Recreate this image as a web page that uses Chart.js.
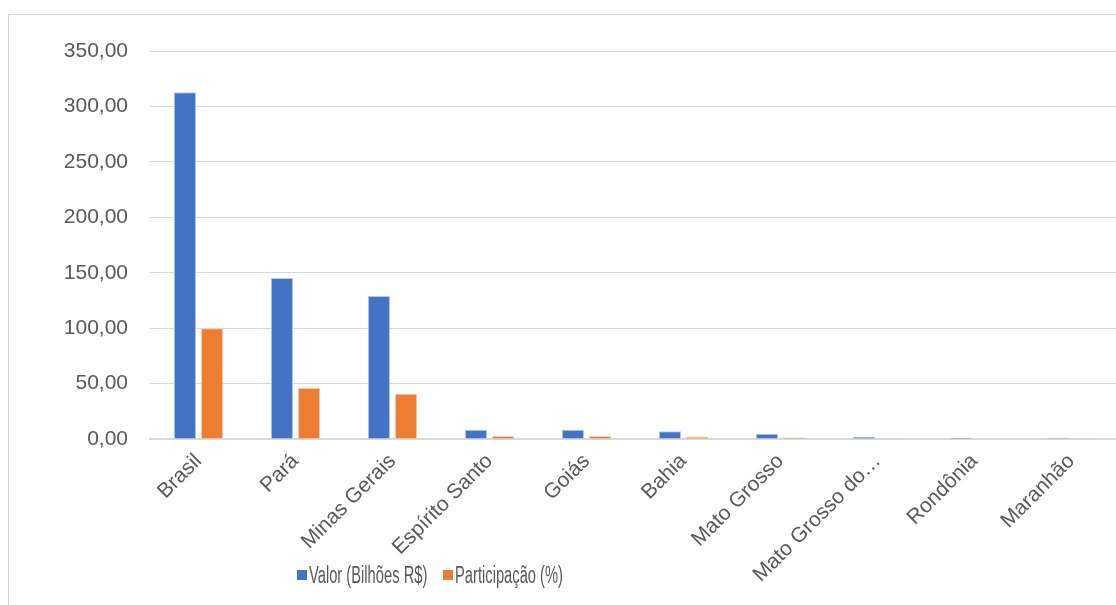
<!DOCTYPE html>
<html>
  <head>
    <meta charset="utf-8">
    <title>Valor e Participação por UF</title>
    <script src="https://cdn.jsdelivr.net/npm/chart.js@4.4.1/dist/chart.umd.min.js"></script>
    <style>
      html, body {
        margin: 0;
        padding: 0;
        background: #ffffff;
        overflow: hidden;
        width: 1116px;
        height: 605px;
      }
      #frame {
        position: absolute;
        left: 8px;
        top: 14px;
        width: 1200px;
        height: 700px;
        border: 1px solid #d9d9d9;
      }
      #wrap {
        position: absolute;
        left: 0;
        top: 0;
        width: 1125px;
        height: 605px;
      }
      .item {
        position: absolute;
        top: 563px;
        height: 24px;
        font-family: "Liberation Sans", sans-serif;
        font-size: 23px;
        line-height: 24px;
        color: #595959;
        white-space: nowrap;
      }
      .box {
        position: absolute;
        top: 7px;
        left: 0;
        width: 10px;
        height: 10px;
      }
      .txt {
        position: absolute;
        left: 12px;
        top: 0;
        transform: scaleX(0.64);
        transform-origin: left center;
      }
    </style>
  </head>
  <body>
    <div id="frame"></div>
    <div id="wrap"><canvas id="chart" width="1125" height="605"></canvas></div>
    <div class="item" style="left:297px"><span class="box" style="background:#4472c4"></span><span class="txt">Valor (Bilhões R$)</span></div>
    <div class="item" style="left:443px"><span class="box" style="background:#ed7d31"></span><span class="txt">Participação (%)</span></div>
    <script>
      var estados = ["Brasil", "Pará", "Minas Gerais", "Espírito Santo", "Goiás", "Bahia",
        "Mato Grosso", "Mato Grosso do…", "Rondônia", "Maranhão"];
      var valor = [312.8, 145.2, 129.0, 8.4, 8.3, 7.0, 4.8, 2.1, 1.2, 1.1];
      var participacao = [100.0, 46.0, 40.9, 2.7, 2.6, 2.2, 1.5, 0.6, 0.4, 0.3];
      var yTicks = [0, 50, 100, 150, 200, 250, 300, 350];

      var ctx = document.getElementById("chart").getContext("2d");
      var myChart = new Chart(ctx, {
        type: "bar",
        data: {
          labels: estados,
          datasets: [
            { label: "Valor (Bilhões R$)", data: valor, backgroundColor: "#4472c4",
              borderColor: "rgba(170,195,235,0.9)", borderWidth: 1 },
            { label: "Participação (%)", data: participacao, backgroundColor: "#ed7d31",
              borderColor: "rgba(250,200,170,0.9)", borderWidth: 1 }
          ]
        },
        options: {
          responsive: false,
          animation: false,
          layout: { padding: { top: 51, right: 5, left: 0, bottom: 0 } },
          datasets: { bar: { categoryPercentage: 0.56, barPercentage: 0.82 } },
          scales: {
            x: {
              grid: { display: false, drawTicks: false },
              border: { color: "#d9d9d9", width: 2 },
              ticks: {
                autoSkip: false,
                minRotation: 45,
                maxRotation: 45,
                padding: 10,
                color: "#595959",
                font: { family: "Liberation Sans", size: 21 }
              },
              afterFit: function (s) { s.height = 166; }
            },
            y: {
              min: 0,
              max: 350,
              afterBuildTicks: function (s) {
                s.ticks = yTicks.map(function (v) { return { value: v }; });
              },
              grid: { color: "#d9d9d9", lineWidth: 1, drawTicks: false },
              border: { display: false },
              ticks: {
                padding: 22,
                color: "#595959",
                font: { family: "Liberation Sans", size: 21 },
                callback: function (v) { return v.toFixed(2).replace(".", ","); }
              },
              afterFit: function (s) { s.width = 150; }
            }
          },
          plugins: {
            legend: { display: false },
            tooltip: { enabled: false }
          }
        }
      });
    </script>
  </body>
</html>
